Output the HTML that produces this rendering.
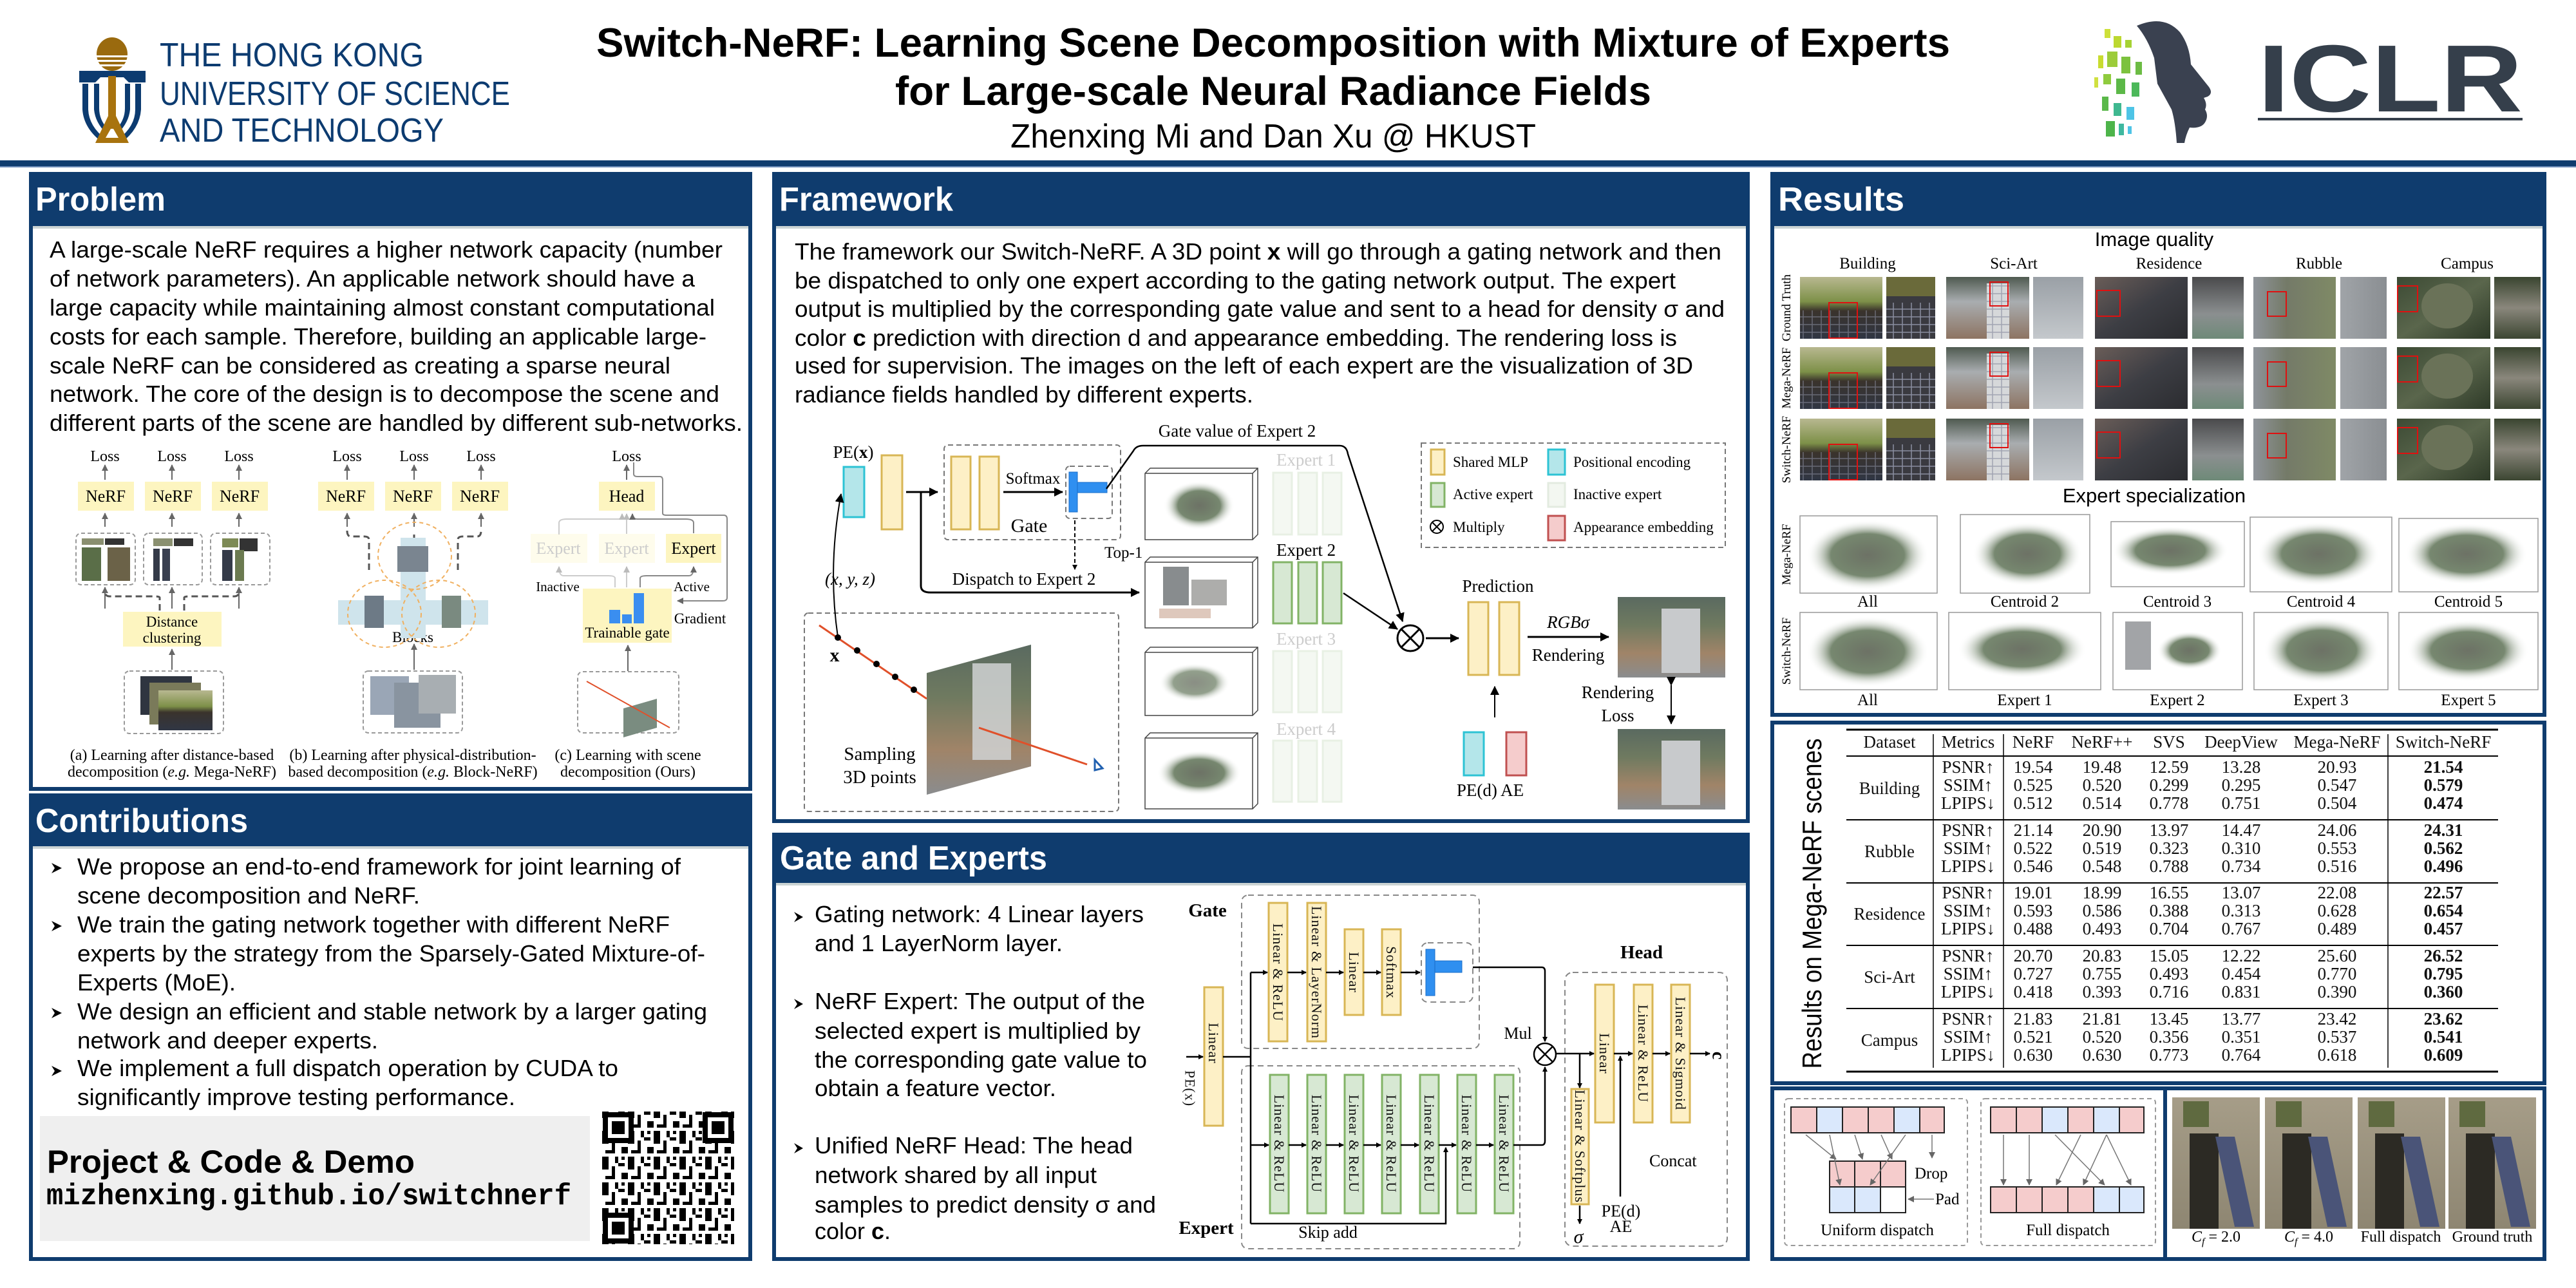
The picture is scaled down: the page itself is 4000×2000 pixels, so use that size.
<!DOCTYPE html>
<html><head><meta charset="utf-8">
<style>
html,body{margin:0;padding:0;background:#fff;width:4000px;height:2000px;overflow:hidden}
svg{display:block}
.sa{font-family:"Liberation Sans",Arial,sans-serif}
.se{font-family:"Liberation Serif","Times New Roman",serif}
.mo{font-family:"Liberation Mono",monospace}
.hd{font-family:"Liberation Sans",Arial,sans-serif;font-weight:bold;font-size:52px;fill:#fff}
.bt{font-family:"Liberation Sans",Arial,sans-serif;font-size:36px;fill:#000}
.tb{font-family:"Liberation Serif",serif;font-size:27px;text-anchor:middle;fill:#111}
.vt{font-family:"Liberation Serif",serif;font-size:22px;text-anchor:middle;dominant-baseline:central;letter-spacing:1px;fill:#111}
</style></head><body>
<svg width="4000" height="2000" viewBox="0 0 4000 2000" xmlns="http://www.w3.org/2000/svg">
<defs>
<marker id="a" markerWidth="8" markerHeight="8" refX="7" refY="4" orient="auto" markerUnits="userSpaceOnUse"><path d="M0,0 L8,4 L0,8 z" fill="#000"/></marker>
<marker id="ab" markerWidth="14" markerHeight="14" refX="13" refY="7" orient="auto" markerUnits="userSpaceOnUse"><path d="M0,0 L14,7 L0,14 z" fill="#000"/></marker>
<marker id="ag" markerWidth="10" markerHeight="10" refX="9" refY="5" orient="auto" markerUnits="userSpaceOnUse"><path d="M0,0 L10,5 L0,10 z" fill="#666"/></marker>
<marker id="al" markerWidth="10" markerHeight="10" refX="9" refY="5" orient="auto" markerUnits="userSpaceOnUse"><path d="M0,0 L10,5 L0,10 z" fill="#bbb"/></marker>
<linearGradient id="gB" x1="0" y1="0" x2="0" y2="1"><stop offset="0" stop-color="#b8b890"/><stop offset="0.4" stop-color="#7d9048"/><stop offset="0.55" stop-color="#3a332c"/><stop offset="1" stop-color="#303644"/></linearGradient>
<linearGradient id="gS" x1="0" y1="0" x2="0" y2="1"><stop offset="0" stop-color="#4f5a50"/><stop offset="0.4" stop-color="#a9adb0"/><stop offset="1" stop-color="#8d7462"/></linearGradient>
<linearGradient id="gS2" x1="0" y1="0" x2="0" y2="1"><stop offset="0" stop-color="#9aa0a6"/><stop offset="1" stop-color="#c4c8cc"/></linearGradient>
<linearGradient id="gR" x1="0" y1="0" x2="1" y2="1"><stop offset="0" stop-color="#6a5d58"/><stop offset="0.5" stop-color="#3d3e44"/><stop offset="1" stop-color="#2b2c30"/></linearGradient>
<linearGradient id="gR2" x1="0" y1="0" x2="0" y2="1"><stop offset="0" stop-color="#4a4a4c"/><stop offset="0.6" stop-color="#8b8f90"/><stop offset="1" stop-color="#6e8a78"/></linearGradient>
<linearGradient id="gU" x1="0" y1="0" x2="1" y2="0"><stop offset="0" stop-color="#8f949a"/><stop offset="0.4" stop-color="#747a68"/><stop offset="1" stop-color="#7f8a66"/></linearGradient>
<linearGradient id="gU2" x1="0" y1="0" x2="1" y2="0"><stop offset="0" stop-color="#a0a4a8"/><stop offset="1" stop-color="#8a8e92"/></linearGradient>
<linearGradient id="gC" x1="0" y1="0" x2="1" y2="1"><stop offset="0" stop-color="#3c4a34"/><stop offset="0.5" stop-color="#5a664c"/><stop offset="1" stop-color="#2e3a28"/></linearGradient>
<linearGradient id="gC2" x1="0" y1="0" x2="0" y2="1"><stop offset="0" stop-color="#3a4530"/><stop offset="0.5" stop-color="#8a877c"/><stop offset="1" stop-color="#3c4632"/></linearGradient>
<linearGradient id="gP" x1="0" y1="0" x2="0" y2="1"><stop offset="0" stop-color="#5a6a60"/><stop offset="0.35" stop-color="#6f7a60"/><stop offset="0.7" stop-color="#a08468"/><stop offset="1" stop-color="#8a8c8e"/></linearGradient>
<linearGradient id="gSol" x1="0" y1="0" x2="0" y2="1"><stop offset="0" stop-color="#a69d88"/><stop offset="1" stop-color="#8e8672"/></linearGradient>
<radialGradient id="gV"><stop offset="0" stop-color="#6d7266"/><stop offset="0.6" stop-color="#556a4c" stop-opacity="0.8"/><stop offset="1" stop-color="#fff" stop-opacity="0"/></radialGradient>
<pattern id="qr" x="935" y="1726" width="40" height="40" patternUnits="userSpaceOnUse"><rect width="40" height="40" fill="#fff"/><rect x="0" y="0" width="10" height="10"/><rect x="15" y="5" width="5" height="15"/><rect x="25" y="0" width="10" height="5"/><rect x="30" y="15" width="10" height="10"/><rect x="5" y="20" width="15" height="5"/><rect x="0" y="30" width="10" height="10"/><rect x="20" y="30" width="5" height="10"/><rect x="30" y="30" width="5" height="5"/></pattern>
<pattern id="grid" width="14" height="12" patternUnits="userSpaceOnUse"><rect width="14" height="12" fill="none" stroke="#8a8ea0" stroke-width="1.5"/></pattern>
</defs>

<!-- HEADER -->
<g>
<ellipse cx="174" cy="84" rx="24" ry="26" fill="#9a6a0e"/>
<rect x="150" y="86" width="48" height="3" fill="#fff"/><rect x="150" y="93" width="48" height="3" fill="#fff"/><rect x="152" y="100" width="44" height="3" fill="#fff"/>
<path d="M123,110 H226 V128 H200 L192,120 H156 L148,128 H123 Z" fill="#0c3b70"/>
<path d="M128,130 V170 Q130,200 160,222 L164,216 Q138,196 137,170 V130 Z M219,130 V170 Q217,200 188,222 L184,216 Q210,196 210,170 V130 Z M146,130 V170 Q148,190 164,206 L167,200 Q154,186 154,168 V130 Z M202,130 V170 Q200,190 184,206 L181,200 Q194,186 194,168 V130 Z" fill="#0c3b70"/>
<path d="M168,118 H180 V180 L200,222 H148 L168,180 Z M172,200 L164,214 H184 L176,200 Z" fill="#a8730e"/>
<text class="sa" x="248" y="103" font-size="52" fill="#0c3b70" textLength="410" lengthAdjust="spacingAndGlyphs">THE HONG KONG</text>
<text class="sa" x="248" y="163" font-size="52" fill="#0c3b70" textLength="544" lengthAdjust="spacingAndGlyphs">UNIVERSITY OF SCIENCE</text>
<text class="sa" x="248" y="220" font-size="52" fill="#0c3b70" textLength="441" lengthAdjust="spacingAndGlyphs">AND TECHNOLOGY</text>

<text class="sa" x="926" y="88" font-size="63" font-weight="bold" textLength="2102" lengthAdjust="spacingAndGlyphs">Switch-NeRF: Learning Scene Decomposition with Mixture of Experts</text>
<text class="sa" x="1390" y="163" font-size="63" font-weight="bold" textLength="1174" lengthAdjust="spacingAndGlyphs">for Large-scale Neural Radiance Fields</text>
<text class="sa" x="1569" y="229" font-size="52" textLength="816" lengthAdjust="spacingAndGlyphs">Zhenxing Mi and Dan Xu @ HKUST</text>

<path d="M3318,40 Q3360,22 3385,50 Q3400,70 3402,100 L3430,135 Q3437,145 3428,150 L3422,152 Q3428,162 3424,170 Q3430,180 3424,190 Q3418,200 3400,198 Q3394,210 3392,222 L3380,222 Q3378,190 3372,170 L3350,130 L3345,90 Q3335,60 3318,40 Z" fill="#3a4150"/>
<g>
<rect x="3268" y="45" width="9" height="14" fill="#cde03a"/><rect x="3282" y="56" width="12" height="18" fill="#bcd830"/><rect x="3300" y="62" width="10" height="12" fill="#a6d234"/>
<rect x="3258" y="86" width="8" height="20" fill="#c8dc30"/><rect x="3272" y="80" width="16" height="24" fill="#9ccc3a"/><rect x="3294" y="88" width="14" height="26" fill="#7cc23e"/><rect x="3316" y="96" width="10" height="20" fill="#6cbc44"/>
<rect x="3252" y="120" width="6" height="16" fill="#d0e040"/><rect x="3266" y="115" width="12" height="16" fill="#8fcb3e"/><rect x="3286" y="122" width="14" height="24" fill="#5cb848"/><rect x="3310" y="128" width="12" height="22" fill="#4cb85a"/>
<rect x="3264" y="150" width="10" height="22" fill="#5ab84a"/><rect x="3282" y="160" width="12" height="20" fill="#3fb890"/><rect x="3302" y="166" width="12" height="20" fill="#4ec4e6"/>
<rect x="3270" y="188" width="14" height="24" fill="#4db44a"/><rect x="3290" y="192" width="8" height="18" fill="#3fb8a0"/><rect x="3304" y="196" width="6" height="12" fill="#4ec4e6"/>
</g>
<text class="sa" x="3506" y="173" font-size="148" font-weight="bold" fill="#353f4b" textLength="411" lengthAdjust="spacingAndGlyphs">ICLR</text>
<rect x="3506" y="183" width="411" height="4" fill="#353f4b"/>
</g>
<rect x="0" y="249" width="4000" height="9" fill="#0f3c6e"/>
<rect x="0" y="258" width="4000" height="2" fill="#6d8db8"/>

<!-- PANELS -->
<g stroke="#0f3c6e" stroke-width="6" fill="#fff">
<rect x="48" y="270" width="1117" height="955"/>
<rect x="48" y="1235" width="1117" height="720"/>
<rect x="1202" y="270" width="1512" height="1005"/>
<rect x="1202" y="1296" width="1512" height="659"/>
<rect x="2752" y="270" width="1199" height="840"/>
<rect x="2752" y="1122" width="1199" height="560"/>
<rect x="2752" y="1690" width="1199" height="265"/>
</g>
<rect x="3359" y="1690" width="6" height="265" fill="#0f3c6e"/>
<g fill="#0f3c6e">
<rect x="45" y="267" width="1123" height="84"/>
<rect x="45" y="1232" width="1123" height="82"/>
<rect x="1199" y="267" width="1518" height="84"/>
<rect x="1199" y="1293" width="1518" height="78"/>
<rect x="2749" y="267" width="1205" height="84"/>
</g>
<g fill="#9aa" opacity="0.5"><rect x="51" y="351" width="1111" height="4"/><rect x="51" y="1314" width="1111" height="4"/><rect x="1205" y="351" width="1506" height="4"/><rect x="1205" y="1371" width="1506" height="4"/><rect x="2755" y="351" width="1193" height="4"/></g>
<text class="hd" x="55" y="327" textLength="202" lengthAdjust="spacingAndGlyphs">Problem</text>
<text class="hd" x="55" y="1292" textLength="330" lengthAdjust="spacingAndGlyphs">Contributions</text>
<text class="hd" x="1210" y="327" textLength="270" lengthAdjust="spacingAndGlyphs">Framework</text>
<text class="hd" x="1211" y="1350" textLength="415" lengthAdjust="spacingAndGlyphs">Gate and Experts</text>
<text class="hd" x="2761" y="327" textLength="196" lengthAdjust="spacingAndGlyphs">Results</text>

<!-- PROBLEM TEXT -->
<g class="bt">
<text x="77" y="400" textLength="1045" lengthAdjust="spacingAndGlyphs">A large-scale NeRF requires a higher network capacity (number</text>
<text x="77" y="445" textLength="1002" lengthAdjust="spacingAndGlyphs">of network parameters). An applicable network should have a</text>
<text x="77" y="490" textLength="1033" lengthAdjust="spacingAndGlyphs">large capacity while maintaining almost constant computational</text>
<text x="77" y="535" textLength="1020" lengthAdjust="spacingAndGlyphs">costs for each sample. Therefore, building an applicable large-</text>
<text x="77" y="580" textLength="964" lengthAdjust="spacingAndGlyphs">scale NeRF can be considered as creating a sparse neural</text>
<text x="77" y="624" textLength="1040" lengthAdjust="spacingAndGlyphs">network. The core of the design is to decompose the scene and</text>
<text x="77" y="669" textLength="1076" lengthAdjust="spacingAndGlyphs">different parts of the scene are handled by different sub-networks.</text>
</g>

<!-- PROBLEM FIGURE -->
<g class="se" font-size="24" text-anchor="middle">
<text x="163" y="716">Loss</text><text x="267" y="716">Loss</text><text x="371" y="716">Loss</text>
<text x="539" y="716">Loss</text><text x="643" y="716">Loss</text><text x="747" y="716">Loss</text><text x="973" y="716">Loss</text>
</g>
<g stroke="#666" stroke-width="2" marker-end="url(#ag)">
<line x1="163" y1="745" x2="163" y2="722"/><line x1="267" y1="745" x2="267" y2="722"/><line x1="371" y1="745" x2="371" y2="722"/>
<line x1="539" y1="745" x2="539" y2="722"/><line x1="643" y1="745" x2="643" y2="722"/><line x1="747" y1="745" x2="747" y2="722"/><line x1="973" y1="745" x2="973" y2="722"/>
<line x1="163" y1="818" x2="163" y2="797"/><line x1="267" y1="818" x2="267" y2="797"/><line x1="371" y1="818" x2="371" y2="797"/>
<line x1="539" y1="818" x2="539" y2="797"/><line x1="643" y1="818" x2="643" y2="797"/><line x1="747" y1="818" x2="747" y2="797"/>
<line x1="267" y1="1040" x2="267" y2="1008"/><line x1="643" y1="1040" x2="643" y2="1000"/><line x1="975" y1="1042" x2="975" y2="1002"/>
<line x1="163" y1="945" x2="163" y2="912"/><line x1="267" y1="945" x2="267" y2="912"/><line x1="371" y1="945" x2="371" y2="912"/>
</g>
<g fill="#fdf5c0">
<rect x="121" y="748" width="87" height="45"/><rect x="225" y="748" width="87" height="45"/><rect x="329" y="748" width="87" height="45"/>
<rect x="494" y="748" width="87" height="45"/><rect x="598" y="748" width="87" height="45"/><rect x="702" y="748" width="87" height="45"/>
<rect x="930" y="748" width="87" height="45"/>
<rect x="191" y="950" width="153" height="54"/>
<rect x="824" y="829" width="88" height="45" opacity="0.3"/><rect x="930" y="829" width="87" height="45" opacity="0.3"/><rect x="1034" y="829" width="86" height="45"/>
<rect x="905" y="914" width="138" height="84"/>
</g>
<g class="se" font-size="26" text-anchor="middle">
<text x="164" y="779">NeRF</text><text x="268" y="779">NeRF</text><text x="372" y="779">NeRF</text>
<text x="537" y="779">NeRF</text><text x="641" y="779">NeRF</text><text x="745" y="779">NeRF</text><text x="973" y="779">Head</text>
<text x="867" y="860" fill="#ccc">Expert</text><text x="973" y="860" fill="#ccc">Expert</text><text x="1077" y="860">Expert</text>
<text x="267" y="973" font-size="23">Distance</text><text x="267" y="998" font-size="23">clustering</text>
<text x="974" y="990" font-size="23">Trainable gate</text>
<text x="866" y="918" font-size="21">Inactive</text><text x="1074" y="918" font-size="21">Active</text><text x="1087" y="968" font-size="23">Gradient</text>
<text x="641" y="997" font-size="23">Blocks</text>
<text x="267" y="1180" font-size="24">(a) Learning after distance-based</text><text x="267" y="1206" font-size="24">decomposition (<tspan font-style="italic">e.g.</tspan> Mega-NeRF)</text>
<text x="641" y="1180" font-size="24">(b) Learning after physical-distribution-</text><text x="641" y="1206" font-size="24">based decomposition (<tspan font-style="italic">e.g.</tspan> Block-NeRF)</text>
<text x="975" y="1180" font-size="24">(c) Learning with scene</text><text x="975" y="1206" font-size="24">decomposition (Ours)</text>
</g>
<g fill="none" stroke="#999" stroke-width="2" stroke-dasharray="6,4">
<rect x="118" y="828" width="92" height="80" rx="8"/><rect x="223" y="828" width="91" height="80" rx="8"/><rect x="327" y="828" width="92" height="80" rx="8"/>
<rect x="193" y="1042" width="154" height="97" rx="8"/><rect x="564" y="1042" width="154" height="96" rx="8"/><rect x="897" y="1043" width="157" height="95" rx="8"/>
</g>
<g fill="none" stroke="#555" stroke-width="3" stroke-dasharray="10,6">
<path d="M248,948 V928 Q248,926 240,926 H170 Q163,926 163,918"/><path d="M286,948 V928 Q286,926 294,926 H364 Q371,926 371,918"/>
<path d="M573,885 V838 Q573,833 565,833 H545 Q539,833 539,824"/><path d="M711,885 V838 Q711,833 719,833 H741 Q747,833 747,824"/><path d="M643,840 V824"/>
</g>
<g>
<rect x="127" y="836" width="34" height="10" fill="#8a8f70"/><rect x="163" y="836" width="30" height="10" fill="#333"/>
<rect x="127" y="850" width="30" height="52" fill="#5a6e48"/><rect x="167" y="850" width="35" height="52" fill="#6b6248"/>
<rect x="238" y="836" width="30" height="12" fill="#8a9070"/><rect x="270" y="836" width="30" height="12" fill="#333"/><rect x="238" y="852" width="10" height="50" fill="#343a48"/><rect x="252" y="852" width="12" height="50" fill="#3a4050"/>
<rect x="345" y="836" width="25" height="14" fill="#7d8a55"/><rect x="372" y="836" width="28" height="20" fill="#333"/><rect x="345" y="854" width="16" height="48" fill="#343a48"/><rect x="365" y="854" width="14" height="48" fill="#6b7a50"/>
<rect x="218" y="1050" width="80" height="60" fill="#2f3540"/><rect x="232" y="1060" width="80" height="65" fill="#7a7a5a"/><rect x="246" y="1072" width="84" height="62" fill="url(#gB)"/>
<rect x="622" y="835" width="39" height="156" fill="#cfe4ec"/><rect x="525" y="932" width="233" height="38" fill="#cfe4ec"/>
<rect x="617" y="848" width="48" height="40" fill="#7a8590"/><rect x="566" y="925" width="30" height="50" fill="#6d7a86"/><rect x="686" y="925" width="30" height="50" fill="#7a8a80"/>
<rect x="575" y="1050" width="60" height="60" fill="#9aa6b6"/><rect x="612" y="1060" width="72" height="70" fill="#8994a0"/><rect x="650" y="1048" width="58" height="60" fill="#a8aeb2"/>
<polygon points="968,1100 1020,1085 1020,1130 968,1145" fill="#7a8c80"/>
<line x1="911" y1="1058" x2="1040" y2="1130" stroke="#e0502a" stroke-width="2"/>
<rect x="946" y="947" width="17" height="21" fill="#3a8ef0"/><rect x="966" y="954" width="15" height="14" fill="#3a8ef0"/><rect x="984" y="921" width="16" height="47" fill="#3a8ef0"/>
</g>
<g fill="none" stroke="#f0b060" stroke-width="2" stroke-dasharray="6,5">
<ellipse cx="644" cy="863" rx="57" ry="52"/><ellipse cx="597" cy="953" rx="57" ry="52"/><ellipse cx="681" cy="953" rx="57" ry="52"/>
</g>
<g fill="none" stroke="#888" stroke-width="2">
<path d="M868,830 V812 Q868,806 880,806 H960 Q966,806 966,798" stroke="#ccc" marker-end="url(#al)"/>
<path d="M973,829 V798" stroke="#ccc" marker-end="url(#al)"/>
<path d="M1077,828 V812 Q1077,806 1065,806 H990 Q982,806 982,798" marker-end="url(#ag)"/>
<path d="M955,912 V898 Q955,894 945,894 H875 Q868,894 868,880" stroke="#ccc" marker-end="url(#al)"/>
<path d="M973,912 V880" stroke="#ccc" marker-end="url(#al)"/>
<path d="M994,912 V898 Q994,894 1004,894 H1070 Q1077,894 1077,880" marker-end="url(#ag)"/>
<path d="M984,718 V736 Q984,740 990,740 H1025 Q1029,740 1029,746 V797 Q1029,800 1035,800 H1124 Q1129,800 1129,806 V928 Q1129,933 1122,933 H1052" marker-end="url(#ag)"/>
</g>

<!-- CONTRIBUTIONS -->
<g fill="#000">
<polygon points="80,1340 96,1348 80,1356 85,1348"/><polygon points="80,1430 96,1438 80,1446 85,1438"/><polygon points="80,1565 96,1573 80,1581 85,1573"/><polygon points="80,1655 96,1663 80,1671 85,1663"/>
</g>
<g class="bt">
<text x="120" y="1358" textLength="937" lengthAdjust="spacingAndGlyphs">We propose an end-to-end framework for joint learning of</text>
<text x="120" y="1403" textLength="532" lengthAdjust="spacingAndGlyphs">scene decomposition and NeRF.</text>
<text x="120" y="1448" textLength="920" lengthAdjust="spacingAndGlyphs">We train the gating network together with different NeRF</text>
<text x="120" y="1493" textLength="975" lengthAdjust="spacingAndGlyphs">experts by the strategy from the Sparsely-Gated Mixture-of-</text>
<text x="120" y="1538" textLength="246" lengthAdjust="spacingAndGlyphs">Experts (MoE).</text>
<text x="120" y="1583" textLength="978" lengthAdjust="spacingAndGlyphs">We design an efficient and stable network by a larger gating</text>
<text x="120" y="1628" textLength="467" lengthAdjust="spacingAndGlyphs">network and deeper experts.</text>
<text x="120" y="1671" textLength="840" lengthAdjust="spacingAndGlyphs">We implement a full dispatch operation by CUDA to</text>
<text x="120" y="1716" textLength="680" lengthAdjust="spacingAndGlyphs">significantly improve testing performance.</text>
</g>
<rect x="62" y="1733" width="854" height="194" fill="#efefef"/>
<text class="sa" x="73" y="1821" font-size="50" font-weight="bold" textLength="571" lengthAdjust="spacingAndGlyphs">Project &amp; Code &amp; Demo</text>
<text class="mo" x="72" y="1870" font-size="46" font-weight="bold" textLength="815" lengthAdjust="spacingAndGlyphs">mizhenxing.github.io/switchnerf</text>
<rect x="935" y="1726" width="205" height="206" fill="url(#qr)"/>
<g fill="#fff" stroke="#000" stroke-width="8"><rect x="940" y="1731" width="40" height="40"/><rect x="1095" y="1731" width="40" height="40"/><rect x="940" y="1887" width="40" height="40"/></g>
<g fill="#000"><rect x="950" y="1741" width="20" height="20"/><rect x="1105" y="1741" width="20" height="20"/><rect x="950" y="1897" width="20" height="20"/></g>

<!-- FRAMEWORK TEXT -->
<g class="bt">
<text x="1234" y="403" textLength="1439" lengthAdjust="spacingAndGlyphs">The framework our Switch-NeRF. A 3D point <tspan font-weight="bold">x</tspan> will go through a gating network and then</text>
<text x="1234" y="448" textLength="1368" lengthAdjust="spacingAndGlyphs">be dispatched to only one expert according to the gating network output. The expert</text>
<text x="1234" y="492" textLength="1444" lengthAdjust="spacingAndGlyphs">output is multiplied by the corresponding gate value and sent to a head for density σ and</text>
<text x="1234" y="537" textLength="1370" lengthAdjust="spacingAndGlyphs">color <tspan font-weight="bold">c</tspan> prediction with direction d and appearance embedding. The rendering loss is</text>
<text x="1234" y="580" textLength="1395" lengthAdjust="spacingAndGlyphs">used for supervision. The images on the left of each expert are the visualization of 3D</text>
<text x="1234" y="625" textLength="712" lengthAdjust="spacingAndGlyphs">radiance fields handled by different experts.</text>
</g>

<!-- FRAMEWORK DIAGRAM -->
<g class="se" font-size="27">
<text x="1921" y="678" text-anchor="middle">Gate value of Expert 2</text>
<text x="1325" y="711" text-anchor="middle">PE(<tspan font-weight="bold">x</tspan>)</text>
<text x="1604" y="751" text-anchor="middle" font-size="25">Softmax</text>
<text x="1598" y="826" text-anchor="middle" font-size="30">Gate</text>
<text x="1715" y="866" font-size="25">Top-1</text>
<text x="1590" y="908" text-anchor="middle">Dispatch to Expert 2</text>
<text x="1320" y="908" text-anchor="middle" font-style="italic">(x, y, z)</text>
<text x="1296" y="1027" text-anchor="middle" font-weight="bold" font-size="30">x</text>
<text x="1366" y="1180" text-anchor="middle" font-size="29">Sampling</text>
<text x="1366" y="1216" text-anchor="middle" font-size="29">3D points</text>
<text x="2028" y="723" text-anchor="middle" fill="#ccc">Expert 1</text>
<text x="2028" y="863" text-anchor="middle">Expert 2</text>
<text x="2028" y="1001" text-anchor="middle" fill="#ccc">Expert 3</text>
<text x="2028" y="1141" text-anchor="middle" fill="#ccc">Expert 4</text>
<text x="2326" y="919" text-anchor="middle">Prediction</text>
<text x="2435" y="975" text-anchor="middle" font-style="italic">RGBσ</text>
<text x="2435" y="1026" text-anchor="middle">Rendering</text>
<text x="2512" y="1084" text-anchor="middle">Rendering</text>
<text x="2512" y="1120" text-anchor="middle">Loss</text>
<text x="2314" y="1236" text-anchor="middle">PE(d) AE</text>
<text x="2256" y="725" font-size="23">Shared MLP</text><text x="2443" y="725" font-size="23">Positional encoding</text>
<text x="2256" y="775" font-size="23">Active expert</text><text x="2443" y="775" font-size="23">Inactive expert</text>
<text x="2256" y="826" font-size="23">Multiply</text><text x="2443" y="826" font-size="23">Appearance embedding</text>
</g>
<g fill="none" stroke="#777" stroke-width="2" stroke-dasharray="8,5">
<rect x="1466" y="691" width="274" height="147" rx="6"/>
<rect x="1655" y="724" width="72" height="81" rx="6"/>
<rect x="2207" y="688" width="472" height="162"/>
<rect x="1249" y="952" width="488" height="308" rx="6"/>
</g>
<g stroke-width="3">
<rect x="1310" y="725" width="32" height="78" fill="#b4e6ea" stroke="#2cc3d4"/>
<rect x="1369" y="707" width="32" height="115" fill="#fdf0c6" stroke="#d8b655"/>
<rect x="1477" y="709" width="30" height="113" fill="#fdf0c6" stroke="#d8b655"/>
<rect x="1521" y="709" width="30" height="113" fill="#fdf0c6" stroke="#d8b655"/>
<rect x="2280" y="935" width="31" height="113" fill="#fdf0c6" stroke="#d8b655"/>
<rect x="2328" y="935" width="31" height="113" fill="#fdf0c6" stroke="#d8b655"/>
<rect x="2273" y="1137" width="31" height="67" fill="#b4e6ea" stroke="#2cc3d4"/>
<rect x="2339" y="1137" width="31" height="67" fill="#f5cccc" stroke="#c05050"/>
<rect x="2222" y="698" width="21" height="39" fill="#fdf0c6" stroke="#d8b655"/>
<rect x="2404" y="698" width="26" height="39" fill="#b4e6ea" stroke="#2cc3d4"/>
<rect x="2222" y="750" width="21" height="37" fill="#d7e8d3" stroke="#82b366"/>
<rect x="2404" y="750" width="26" height="37" fill="#f3f7f1" stroke="#e3ebe0"/>
<rect x="2404" y="801" width="26" height="38" fill="#f5cccc" stroke="#c05050"/>
</g>
<circle cx="2231" cy="818" r="10" fill="none" stroke="#000" stroke-width="2"/><path d="M2224,811 L2238,825 M2238,811 L2224,825" stroke="#000" stroke-width="2"/>
<g fill="#2f8ff0" stroke="#1a6cc8" stroke-width="1"><rect x="1660" y="733" width="13" height="62"/><rect x="1673" y="749" width="46" height="16"/></g>
<g stroke="#e8f0e4" stroke-width="3" fill="#f4f8f2">
<rect x="1977" y="734" width="29" height="96"/><rect x="2016" y="734" width="29" height="96"/><rect x="2054" y="734" width="29" height="96"/>
<rect x="1977" y="1011" width="29" height="95"/><rect x="2016" y="1011" width="29" height="95"/><rect x="2054" y="1011" width="29" height="95"/>
<rect x="1977" y="1150" width="29" height="95"/><rect x="2016" y="1150" width="29" height="95"/><rect x="2054" y="1150" width="29" height="95"/>
</g>
<g stroke="#82b366" stroke-width="3" fill="#d7e8d3">
<rect x="1977" y="873" width="29" height="95"/><rect x="2016" y="873" width="29" height="95"/><rect x="2054" y="873" width="29" height="95"/>
</g>
<g fill="#fff" stroke="#444" stroke-width="1.5">
<path d="M1778,735 L1786,727 H1953 V830 L1945,838 H1778 Z M1778,735 H1945 V838 M1945,735 L1953,727"/>
<path d="M1778,873 L1786,865 H1953 V967 L1945,975 H1778 Z M1778,873 H1945 V975 M1945,873 L1953,865"/>
<path d="M1778,1013 L1786,1005 H1953 V1103 L1945,1111 H1778 Z M1778,1013 H1945 V1111 M1945,1013 L1953,1005"/>
<path d="M1778,1146 L1786,1138 H1953 V1248 L1945,1256 H1778 Z M1778,1146 H1945 V1256 M1945,1146 L1953,1138"/>
</g>
<ellipse cx="1862" cy="785" rx="55" ry="38" fill="url(#gV)"/>
<rect x="1806" y="880" width="40" height="60" fill="#6a6f72" opacity="0.8"/><rect x="1850" y="900" width="55" height="40" fill="#8a8a88" opacity="0.7"/><rect x="1800" y="945" width="80" height="15" fill="#c8a490" opacity="0.6"/>
<ellipse cx="1855" cy="1060" rx="55" ry="30" fill="url(#gV)" opacity="0.8"/>
<ellipse cx="1862" cy="1200" rx="65" ry="35" fill="url(#gV)"/>
<polygon points="1439,1045 1601,1001 1601,1190 1439,1234" fill="url(#gP)"/>
<rect x="1510" y="1030" width="60" height="150" fill="#d0d2d4" opacity="0.85"/>
<line x1="1272" y1="971" x2="1439" y2="1085" stroke="#e0502a" stroke-width="3"/>
<line x1="1520" y1="1130" x2="1688" y2="1187" stroke="#e0502a" stroke-width="3"/>
<g fill="#000"><circle cx="1301" cy="990" r="5"/><circle cx="1331" cy="1010" r="5"/><circle cx="1361" cy="1031" r="5"/><circle cx="1390" cy="1051" r="5"/><circle cx="1419" cy="1071" r="5"/></g>
<path d="M1700,1180 L1712,1193 L1700,1196 Z" fill="none" stroke="#2060b0" stroke-width="3"/>
<rect x="2512" y="927" width="167" height="125" fill="url(#gP)"/><rect x="2580" y="945" width="60" height="100" fill="#c8cacc"/>
<rect x="2512" y="1132" width="167" height="125" fill="url(#gP)"/><rect x="2580" y="1150" width="60" height="100" fill="#c8cacc"/>
<g fill="none" stroke="#000" stroke-width="3">
<line x1="1407" y1="764" x2="1456" y2="764" marker-end="url(#ab)"/>
<line x1="1558" y1="764" x2="1650" y2="764" marker-end="url(#ab)"/>
<path d="M1430,764 V910 Q1430,920 1445,920 H1769" marker-end="url(#ab)"/>
<path d="M1669,808 V884" stroke-dasharray="6,4" stroke-width="2" marker-end="url(#a)"/>
<path d="M1718,759 L1760,700 Q1764,692 1775,692 H2080 Q2091,692 2093,705 L2178,965" stroke-width="2.5" marker-end="url(#ab)"/>
<line x1="2086" y1="921" x2="2170" y2="977" stroke-width="2.5" marker-end="url(#ab)"/>
<line x1="2214" y1="991" x2="2265" y2="991" marker-end="url(#ab)"/>
<line x1="2372" y1="989" x2="2498" y2="989" marker-end="url(#ab)"/>
<line x1="2321" y1="1114" x2="2321" y2="1066" stroke-width="2" marker-end="url(#ab)"/>
<line x1="2595" y1="1064" x2="2595" y2="1124" stroke-width="2" marker-end="url(#ab)" marker-start="url(#ab)"/>
<path d="M1301,989 Q1285,880 1306,767" stroke-width="2" marker-end="url(#ab)"/>
</g>
<circle cx="2190" cy="991" r="20" fill="#fff" stroke="#000" stroke-width="3"/><path d="M2176,977 L2204,1005 M2204,977 L2176,1005" stroke="#000" stroke-width="3"/>

<!-- GATE AND EXPERTS TEXT -->
<g fill="#000">
<polygon points="1233,1416 1247,1424 1233,1432 1238,1424"/><polygon points="1233,1551 1247,1559 1233,1567 1238,1559"/><polygon points="1233,1775 1247,1783 1233,1791 1238,1783"/>
</g>
<g class="bt">
<text x="1265" y="1432" textLength="511" lengthAdjust="spacingAndGlyphs">Gating network: 4 Linear layers</text>
<text x="1265" y="1477" textLength="385" lengthAdjust="spacingAndGlyphs">and 1 LayerNorm layer.</text>
<text x="1265" y="1567" textLength="513" lengthAdjust="spacingAndGlyphs">NeRF Expert: The output of the</text>
<text x="1265" y="1613" textLength="506" lengthAdjust="spacingAndGlyphs">selected expert is multiplied by</text>
<text x="1265" y="1658" textLength="516" lengthAdjust="spacingAndGlyphs">the corresponding gate value to</text>
<text x="1265" y="1702" textLength="375" lengthAdjust="spacingAndGlyphs">obtain a feature vector.</text>
<text x="1265" y="1791" textLength="494" lengthAdjust="spacingAndGlyphs">Unified NeRF Head: The head</text>
<text x="1265" y="1837" textLength="438" lengthAdjust="spacingAndGlyphs">network shared by all input</text>
<text x="1265" y="1883" textLength="530" lengthAdjust="spacingAndGlyphs">samples to predict density σ and</text>
<text x="1265" y="1924" textLength="118" lengthAdjust="spacingAndGlyphs">color <tspan font-weight="bold">c</tspan>.</text>
</g>

<!-- GATE AND EXPERTS DIAGRAM -->
<g fill="none" stroke="#888" stroke-width="2" stroke-dasharray="9,6">
<rect x="1928" y="1390" width="369" height="238" rx="10"/>
<rect x="2207" y="1464" width="80" height="92" rx="10"/>
<rect x="1928" y="1655" width="432" height="284" rx="10"/>
<rect x="2430" y="1510" width="252" height="425" rx="12"/>
</g>
<g class="se" font-weight="bold" font-size="29">
<text x="1875" y="1423" text-anchor="middle">Gate</text>
<text x="1873" y="1916" text-anchor="middle">Expert</text>
<text x="2549" y="1488" text-anchor="middle">Head</text>
</g>
<g stroke="#d8b655" stroke-width="3" fill="#fdf0c6">
<rect x="1970" y="1402" width="29" height="215"/><rect x="2030" y="1402" width="29" height="215"/>
<rect x="2088" y="1443" width="29" height="133"/><rect x="2146" y="1443" width="29" height="133"/>
<rect x="1870" y="1533" width="29" height="215"/>
<rect x="2477" y="1529" width="29" height="214"/><rect x="2537" y="1529" width="29" height="214"/><rect x="2595" y="1529" width="29" height="214"/>
<rect x="2440" y="1691" width="27" height="179"/>
</g>
<g stroke="#82b366" stroke-width="3" fill="#d7e8d3">
<rect x="1972" y="1669" width="29" height="215"/><rect x="2030" y="1669" width="29" height="215"/><rect x="2088" y="1669" width="29" height="215"/><rect x="2146" y="1669" width="29" height="215"/><rect x="2205" y="1669" width="29" height="215"/><rect x="2263" y="1669" width="29" height="215"/><rect x="2321" y="1669" width="29" height="215"/>
</g>
<g class="vt">
<text transform="translate(1984.5,1510) rotate(90)">Linear &amp; ReLU</text>
<text transform="translate(2044.5,1510) rotate(90)">Linear &amp; LayerNorm</text>
<text transform="translate(2102.5,1510) rotate(90)">Linear</text>
<text transform="translate(2160.5,1510) rotate(90)">Softmax</text>
<text transform="translate(1884.5,1620) rotate(90)">Linear</text>
<text transform="translate(1986.5,1776) rotate(90)">Linear &amp; ReLU</text>
<text transform="translate(2044.5,1776) rotate(90)">Linear &amp; ReLU</text>
<text transform="translate(2102.5,1776) rotate(90)">Linear &amp; ReLU</text>
<text transform="translate(2160.5,1776) rotate(90)">Linear &amp; ReLU</text>
<text transform="translate(2219.5,1776) rotate(90)">Linear &amp; ReLU</text>
<text transform="translate(2277.5,1776) rotate(90)">Linear &amp; ReLU</text>
<text transform="translate(2335.5,1776) rotate(90)">Linear &amp; ReLU</text>
<text transform="translate(2491.5,1636) rotate(90)">Linear</text>
<text transform="translate(2551.5,1636) rotate(90)">Linear &amp; ReLU</text>
<text transform="translate(2609.5,1636) rotate(90)">Linear &amp; Sigmoid</text>
<text transform="translate(2453.5,1780) rotate(90)">Linear &amp; Softplus</text>
<text transform="translate(1848,1690) rotate(90)">PE(x)</text>
</g>
<g fill="#2f8ff0" stroke="#1a6cc8" stroke-width="1"><rect x="2214" y="1474" width="14" height="72"/><rect x="2228" y="1492" width="42" height="18"/></g>
<g class="se" font-size="26">
<text x="2357" y="1613" text-anchor="middle">Mul</text>
<text x="2062" y="1922" text-anchor="middle">Skip add</text>
<text x="2561" y="1811">Concat</text>
<text x="2517" y="1889" text-anchor="middle">PE(d)</text>
<text x="2517" y="1913" text-anchor="middle">AE</text>
<text x="2451" y="1930" text-anchor="middle" font-style="italic" font-size="30">σ</text>
<text transform="translate(2668,1639) rotate(90)" text-anchor="middle" dominant-baseline="central" font-weight="bold" font-size="28">c</text>
</g>
<g fill="none" stroke="#000" stroke-width="2.5">
<line x1="1842" y1="1641" x2="1868" y2="1641" marker-end="url(#a)"/>
<path d="M1899,1641 H1942"/><path d="M1942,1900 V1510"/>
<line x1="1942" y1="1510" x2="1968" y2="1510" marker-end="url(#a)"/>
<line x1="1999" y1="1510" x2="2028" y2="1510" marker-end="url(#a)"/>
<line x1="2059" y1="1510" x2="2086" y2="1510" marker-end="url(#a)"/>
<line x1="2117" y1="1510" x2="2144" y2="1510" marker-end="url(#a)"/>
<line x1="2175" y1="1510" x2="2205" y2="1510" marker-end="url(#a)"/>
<line x1="1942" y1="1778" x2="1970" y2="1778" marker-end="url(#a)"/>
<line x1="2001" y1="1778" x2="2028" y2="1778" marker-end="url(#a)"/>
<line x1="2059" y1="1778" x2="2086" y2="1778" marker-end="url(#a)"/>
<line x1="2117" y1="1778" x2="2144" y2="1778" marker-end="url(#a)"/>
<line x1="2175" y1="1778" x2="2203" y2="1778" marker-end="url(#a)"/>
<line x1="2234" y1="1778" x2="2261" y2="1778" marker-end="url(#a)"/>
<line x1="2292" y1="1778" x2="2319" y2="1778" marker-end="url(#a)"/>
<path d="M1942,1900 H2245 V1782" marker-end="url(#a)"/>
<path d="M2287,1502 H2394 Q2399,1502 2399,1508 V1617" marker-end="url(#a)"/>
<path d="M2350,1778 H2394 Q2399,1778 2399,1772 V1657" marker-end="url(#a)"/>
<line x1="2416" y1="1636" x2="2475" y2="1636" marker-end="url(#a)"/>
<line x1="2453" y1="1636" x2="2453" y2="1689" marker-end="url(#a)"/>
<line x1="2453" y1="1872" x2="2453" y2="1900" marker-end="url(#a)"/>
<line x1="2506" y1="1636" x2="2535" y2="1636" marker-end="url(#a)"/>
<line x1="2516" y1="1858" x2="2516" y2="1640" marker-end="url(#a)"/>
<line x1="2566" y1="1636" x2="2593" y2="1636" marker-end="url(#a)"/>
<line x1="2624" y1="1636" x2="2655" y2="1636" marker-end="url(#a)"/>
</g>
<circle cx="2399" cy="1637" r="17" fill="#fff" stroke="#000" stroke-width="2.5"/><path d="M2387,1625 L2411,1649 M2411,1625 L2387,1649" stroke="#000" stroke-width="2.5"/>

<!-- RESULTS: IMAGE QUALITY -->
<text class="sa" x="3345" y="382" font-size="31" text-anchor="middle">Image quality</text>
<g class="se" font-size="25" text-anchor="middle">
<text x="2900" y="417">Building</text><text x="3127" y="417">Sci-Art</text><text x="3368" y="417">Residence</text><text x="3601" y="417">Rubble</text><text x="3831" y="417">Campus</text>
</g>
<g class="se" font-size="19" text-anchor="middle">
<text transform="translate(2780,478) rotate(-90)">Ground Truth</text>
<text transform="translate(2780,587) rotate(-90)">Mega-NeRF</text>
<text transform="translate(2780,698) rotate(-90)">Switch-NeRF</text>
<text transform="translate(2780,861) rotate(-90)">Mega-NeRF</text>
<text transform="translate(2780,1011) rotate(-90)">Switch-NeRF</text>
</g>
<g id="iqrow">
<rect x="2795" y="430" width="128" height="96" fill="url(#gB)"/><rect x="2795" y="482" width="128" height="44" fill="url(#grid)" opacity="0.6"/><rect x="2929" y="430" width="76" height="96" fill="#3a3a40"/><rect x="2929" y="430" width="76" height="30" fill="#6a6a3a"/><rect x="2929" y="470" width="76" height="56" fill="url(#grid)"/>
<rect x="3022" y="430" width="129" height="96" fill="url(#gS)"/><rect x="3085" y="440" width="35" height="86" fill="#d6d8da"/><rect x="3085" y="440" width="35" height="86" fill="url(#grid)" opacity="0.7"/><rect x="3157" y="430" width="78" height="96" fill="url(#gS2)"/>
<rect x="3253" y="430" width="144" height="96" fill="url(#gR)"/><rect x="3404" y="430" width="80" height="96" fill="url(#gR2)"/>
<rect x="3499" y="430" width="128" height="96" fill="url(#gU)"/><rect x="3634" y="430" width="72" height="96" fill="url(#gU2)"/>
<rect x="3722" y="430" width="145" height="96" fill="url(#gC)"/><ellipse cx="3800" cy="475" rx="40" ry="35" fill="#6a7258"/><rect x="3873" y="430" width="72" height="96" fill="url(#gC2)"/>
<g fill="none" stroke="#e01010" stroke-width="2"><rect x="2840" y="470" width="44" height="55"/><rect x="3090" y="438" width="28" height="37"/><rect x="3256" y="451" width="36" height="40"/><rect x="3521" y="453" width="29" height="38"/><rect x="3723" y="444" width="31" height="40"/></g>
</g>
<use href="#iqrow" y="109"/>
<use href="#iqrow" y="220"/>
<text class="sa" x="3345" y="780" font-size="31" text-anchor="middle">Expert specialization</text>
<g fill="#fff" stroke="#999" stroke-width="1.5">
<rect x="2795" y="801" width="213" height="120"/><rect x="3044" y="799" width="201" height="122"/><rect x="3278" y="810" width="207" height="101"/><rect x="3494" y="803" width="220" height="116"/><rect x="3725" y="805" width="216" height="114"/>
<rect x="2795" y="951" width="213" height="120"/><rect x="3026" y="951" width="236" height="120"/><rect x="3281" y="951" width="201" height="120"/><rect x="3500" y="951" width="208" height="120"/><rect x="3725" y="951" width="216" height="120"/>
</g>
<g>
<ellipse cx="2900" cy="862" rx="95" ry="55" fill="url(#gV)"/><ellipse cx="3148" cy="860" rx="85" ry="50" fill="url(#gV)"/><ellipse cx="3370" cy="855" rx="90" ry="38" fill="url(#gV)"/><ellipse cx="3600" cy="860" rx="95" ry="50" fill="url(#gV)"/><ellipse cx="3830" cy="860" rx="95" ry="48" fill="url(#gV)"/>
<ellipse cx="2900" cy="1012" rx="95" ry="55" fill="url(#gV)"/><ellipse cx="3140" cy="1008" rx="100" ry="45" fill="url(#gV)"/><rect x="3300" y="965" width="40" height="75" fill="#7a7e82" opacity="0.7"/><ellipse cx="3400" cy="1010" rx="50" ry="30" fill="url(#gV)"/><ellipse cx="3605" cy="1010" rx="90" ry="52" fill="url(#gV)"/><ellipse cx="3832" cy="1010" rx="95" ry="48" fill="url(#gV)"/>
</g>
<g class="se" font-size="25" text-anchor="middle">
<text x="2900" y="942">All</text><text x="3144" y="942">Centroid 2</text><text x="3381" y="942">Centroid 3</text><text x="3604" y="942">Centroid 4</text><text x="3833" y="942">Centroid 5</text>
<text x="2900" y="1095">All</text><text x="3144" y="1095">Expert 1</text><text x="3381" y="1095">Expert 2</text><text x="3604" y="1095">Expert 3</text><text x="3833" y="1095">Expert 5</text>
</g>

<!-- TABLE -->
<text class="sa" transform="translate(2828,1403) rotate(-90)" font-size="42" text-anchor="middle" textLength="513" lengthAdjust="spacingAndGlyphs">Results on Mega-NeRF scenes</text>
<g stroke="#000">
<line x1="2867" y1="1133" x2="3879" y2="1133" stroke-width="3"/>
<line x1="2867" y1="1174" x2="3879" y2="1174" stroke-width="2"/>
<line x1="2867" y1="1273" x2="3879" y2="1273" stroke-width="2"/>
<line x1="2867" y1="1371" x2="3879" y2="1371" stroke-width="2"/>
<line x1="2867" y1="1468" x2="3879" y2="1468" stroke-width="2"/>
<line x1="2867" y1="1566" x2="3879" y2="1566" stroke-width="2"/>
<line x1="2867" y1="1664" x2="3879" y2="1664" stroke-width="3"/>
<g stroke-width="1.5"><line x1="3002" y1="1140" x2="3002" y2="1658"/><line x1="3111" y1="1140" x2="3111" y2="1658"/><line x1="3708" y1="1140" x2="3708" y2="1658"/></g>
</g>
<g class="tb">
<text x="2934" y="1161">Dataset</text><text x="3056" y="1161">Metrics</text><text x="3157" y="1161">NeRF</text><text x="3264" y="1161">NeRF++</text><text x="3368" y="1161">SVS</text><text x="3480" y="1161">DeepView</text><text x="3629" y="1161">Mega-NeRF</text><text x="3794" y="1161">Switch-NeRF</text>
<text x="2934" y="1233">Building</text><text x="2934" y="1331">Rubble</text><text x="2934" y="1428">Residence</text><text x="2934" y="1526">Sci-Art</text><text x="2934" y="1624">Campus</text>
</g>
<g id="mt" class="tb"><text x="3056" y="1200">PSNR↑</text><text x="3056" y="1228">SSIM↑</text><text x="3056" y="1256">LPIPS↓</text></g>
<use href="#mt" y="98"/><use href="#mt" y="195"/><use href="#mt" y="293"/><use href="#mt" y="391"/>
<g class="tb">
<text x="3157" y="1200">19.54</text><text x="3264" y="1200">19.48</text><text x="3368" y="1200">12.59</text><text x="3480" y="1200">13.28</text><text x="3629" y="1200">20.93</text><text x="3794" y="1200" font-weight="bold">21.54</text>
<text x="3157" y="1228">0.525</text><text x="3264" y="1228">0.520</text><text x="3368" y="1228">0.299</text><text x="3480" y="1228">0.295</text><text x="3629" y="1228">0.547</text><text x="3794" y="1228" font-weight="bold">0.579</text>
<text x="3157" y="1256">0.512</text><text x="3264" y="1256">0.514</text><text x="3368" y="1256">0.778</text><text x="3480" y="1256">0.751</text><text x="3629" y="1256">0.504</text><text x="3794" y="1256" font-weight="bold">0.474</text>
<text x="3157" y="1298">21.14</text><text x="3264" y="1298">20.90</text><text x="3368" y="1298">13.97</text><text x="3480" y="1298">14.47</text><text x="3629" y="1298">24.06</text><text x="3794" y="1298" font-weight="bold">24.31</text>
<text x="3157" y="1326">0.522</text><text x="3264" y="1326">0.519</text><text x="3368" y="1326">0.323</text><text x="3480" y="1326">0.310</text><text x="3629" y="1326">0.553</text><text x="3794" y="1326" font-weight="bold">0.562</text>
<text x="3157" y="1354">0.546</text><text x="3264" y="1354">0.548</text><text x="3368" y="1354">0.788</text><text x="3480" y="1354">0.734</text><text x="3629" y="1354">0.516</text><text x="3794" y="1354" font-weight="bold">0.496</text>
<text x="3157" y="1395">19.01</text><text x="3264" y="1395">18.99</text><text x="3368" y="1395">16.55</text><text x="3480" y="1395">13.07</text><text x="3629" y="1395">22.08</text><text x="3794" y="1395" font-weight="bold">22.57</text>
<text x="3157" y="1423">0.593</text><text x="3264" y="1423">0.586</text><text x="3368" y="1423">0.388</text><text x="3480" y="1423">0.313</text><text x="3629" y="1423">0.628</text><text x="3794" y="1423" font-weight="bold">0.654</text>
<text x="3157" y="1451">0.488</text><text x="3264" y="1451">0.493</text><text x="3368" y="1451">0.704</text><text x="3480" y="1451">0.767</text><text x="3629" y="1451">0.489</text><text x="3794" y="1451" font-weight="bold">0.457</text>
<text x="3157" y="1493">20.70</text><text x="3264" y="1493">20.83</text><text x="3368" y="1493">15.05</text><text x="3480" y="1493">12.22</text><text x="3629" y="1493">25.60</text><text x="3794" y="1493" font-weight="bold">26.52</text>
<text x="3157" y="1521">0.727</text><text x="3264" y="1521">0.755</text><text x="3368" y="1521">0.493</text><text x="3480" y="1521">0.454</text><text x="3629" y="1521">0.770</text><text x="3794" y="1521" font-weight="bold">0.795</text>
<text x="3157" y="1549">0.418</text><text x="3264" y="1549">0.393</text><text x="3368" y="1549">0.716</text><text x="3480" y="1549">0.831</text><text x="3629" y="1549">0.390</text><text x="3794" y="1549" font-weight="bold">0.360</text>
<text x="3157" y="1591">21.83</text><text x="3264" y="1591">21.81</text><text x="3368" y="1591">13.45</text><text x="3480" y="1591">13.77</text><text x="3629" y="1591">23.42</text><text x="3794" y="1591" font-weight="bold">23.62</text>
<text x="3157" y="1619">0.521</text><text x="3264" y="1619">0.520</text><text x="3368" y="1619">0.356</text><text x="3480" y="1619">0.351</text><text x="3629" y="1619">0.537</text><text x="3794" y="1619" font-weight="bold">0.541</text>
<text x="3157" y="1647">0.630</text><text x="3264" y="1647">0.630</text><text x="3368" y="1647">0.773</text><text x="3480" y="1647">0.764</text><text x="3629" y="1647">0.618</text><text x="3794" y="1647" font-weight="bold">0.609</text>
</g>

<!-- BOTTOM: DISPATCH -->
<g fill="none" stroke="#999" stroke-width="2" stroke-dasharray="7,5">
<rect x="2771" y="1706" width="284" height="228" rx="6"/><rect x="3076" y="1706" width="271" height="228" rx="6"/>
</g>
<g stroke="#222" stroke-width="2">
<rect x="2781" y="1719" width="40" height="40" fill="#f5cccc"/><rect x="2821" y="1719" width="40" height="40" fill="#dae8fc"/><rect x="2861" y="1719" width="40" height="40" fill="#f5cccc"/><rect x="2901" y="1719" width="40" height="40" fill="#f5cccc"/><rect x="2941" y="1719" width="40" height="40" fill="#dae8fc"/><rect x="2981" y="1719" width="38" height="40" fill="#f5cccc"/>
<rect x="2841" y="1803" width="39" height="40" fill="#f5cccc"/><rect x="2880" y="1803" width="40" height="40" fill="#f5cccc"/><rect x="2920" y="1803" width="39" height="40" fill="#f5cccc"/>
<rect x="2841" y="1843" width="39" height="40" fill="#dae8fc"/><rect x="2880" y="1843" width="40" height="40" fill="#dae8fc"/><rect x="2920" y="1843" width="39" height="40" fill="#fff"/>
<rect x="3091" y="1719" width="40" height="40" fill="#f5cccc"/><rect x="3131" y="1719" width="40" height="40" fill="#f5cccc"/><rect x="3171" y="1719" width="40" height="40" fill="#dae8fc"/><rect x="3211" y="1719" width="40" height="40" fill="#f5cccc"/><rect x="3251" y="1719" width="40" height="40" fill="#dae8fc"/><rect x="3291" y="1719" width="38" height="40" fill="#f5cccc"/>
<rect x="3091" y="1843" width="40" height="40" fill="#f5cccc"/><rect x="3131" y="1843" width="40" height="40" fill="#f5cccc"/><rect x="3171" y="1843" width="40" height="40" fill="#f5cccc"/><rect x="3211" y="1843" width="40" height="40" fill="#f5cccc"/><rect x="3251" y="1843" width="40" height="40" fill="#dae8fc"/><rect x="3291" y="1843" width="38" height="40" fill="#dae8fc"/>
</g>
<g stroke="#777" stroke-width="1.5" marker-end="url(#ag)">
<line x1="2804" y1="1762" x2="2851" y2="1800"/><line x1="2841" y1="1762" x2="2857" y2="1840"/><line x1="2880" y1="1762" x2="2892" y2="1800"/><line x1="2921" y1="1762" x2="2938" y2="1800"/><line x1="2959" y1="1762" x2="2904" y2="1840"/><line x1="3000" y1="1762" x2="3000" y2="1798"/>
<line x1="3111" y1="1762" x2="3111" y2="1840"/><line x1="3151" y1="1762" x2="3151" y2="1840"/><line x1="3191" y1="1762" x2="3268" y2="1840"/><line x1="3231" y1="1762" x2="3193" y2="1840"/><line x1="3271" y1="1762" x2="3235" y2="1840"/><line x1="3271" y1="1762" x2="3309" y2="1840"/>
<line x1="3003" y1="1862" x2="2963" y2="1862"/>
</g>
<g class="se" font-size="25">
<text x="2973" y="1830">Drop</text><text x="3005" y="1870">Pad</text>
<text x="2915" y="1918" text-anchor="middle">Uniform dispatch</text><text x="3211" y="1918" text-anchor="middle">Full dispatch</text>
</g>
<!-- BOTTOM: SOLAR -->
<g id="sol">
<rect x="3373" y="1704" width="136" height="204" fill="url(#gSol)"/>
<rect x="3400" y="1760" width="45" height="148" fill="#2c2a24"/>
<polygon points="3440,1765 3470,1765 3500,1905 3470,1905" fill="#4a5478"/>
<rect x="3390" y="1710" width="40" height="40" fill="#5f6a40"/>
</g>
<use href="#sol" x="144"/><use href="#sol" x="288"/><use href="#sol" x="429"/>
<g class="se" font-size="24" text-anchor="middle">
<text x="3441" y="1928"><tspan font-style="italic">C<tspan font-size="16" dy="5">f</tspan></tspan><tspan dy="-5"> = 2.0</tspan></text>
<text x="3585" y="1928"><tspan font-style="italic">C<tspan font-size="16" dy="5">f</tspan></tspan><tspan dy="-5"> = 4.0</tspan></text>
<text x="3728" y="1928">Full dispatch</text><text x="3870" y="1928">Ground truth</text>
</g>
</svg>
</body></html>
